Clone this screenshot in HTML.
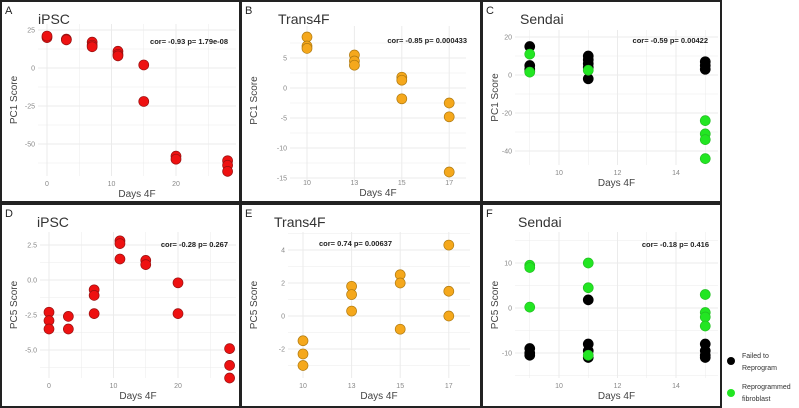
<!DOCTYPE html>
<html><head><meta charset="utf-8"><style>
body{margin:0;background:#fff;}
svg{display:block;font-family:"Liberation Sans",sans-serif;}
</style></head><body>
<svg id="fig" width="799" height="408" viewBox="0 0 799 408" xmlns="http://www.w3.org/2000/svg"></svg>
<script>
// Panel A: iPSC PC1
const aDays=[0,0,3,3,7,7,7,11,11,11,15,15,20,20,28,28,28];
const aPC1=[20,21,19,18.5,17,15,14,11,9,8,2,-22,-58,-60,-61,-64,-68];
// Panel B: Trans4F PC1
const bCats=["10","13","15","17"];
const bDays=["10","10","10","13","13","13","15","15","15","17","17","17"];
const bPC1=[8.5,7,6.6,5.5,4.5,3.8,1.8,1.3,-1.8,-2.5,-4.8,-14];
// Panel C: Sendai PC1
const cDays=[9,9,9,9,9,9,11,11,11,11,11,11,15,15,15,15,15,15,15];
const cPC1=[15,5,3,2,11,1.5,10,8,6,4,-2,2.5,7,5,3,-24,-31,-34,-44];
const cGroup=["f","f","f","f","r","r","f","f","f","f","f","r","f","f","f","r","r","r","r"];
// Panel D: iPSC PC5
const dDays=[0,0,0,3,3,7,7,7,11,11,11,15,15,20,20,28,28,28];
const dPC5=[-2.3,-2.9,-3.5,-2.6,-3.5,-0.7,-1.1,-2.4,2.8,2.6,1.5,1.4,1.1,-0.2,-2.4,-4.9,-6.1,-7.0];
// Panel E: Trans4F PC5
const eCats=["10","13","15","17"];
const eDays=["10","10","10","13","13","13","15","15","15","17","17","17"];
const ePC5=[-1.5,-2.3,-3.0,1.8,1.3,0.3,2.5,2.0,-0.8,4.3,1.5,0.0];
// Panel F: Sendai PC5
const fDays=[9,9,9,9,9,9,11,11,11,11,11,11,11,15,15,15,15,15,15,15,15];
const fPC5=[-9,-10,-10.5,9.5,9,0.2,1.8,-8,-9.5,-11,10,4.5,-10.5,-8,-9.5,-10.5,-11,3,-1,-2,-4];
const fGroup=["f","f","f","r","r","r","f","f","f","f","r","r","r","f","f","f","f","r","r","r","r"];
// tick labels
const aXTicks=[0,10,20], aYTicks=[25,0,-25,-50];
const bYTicks=[5,0,-5,-10,-15];
const cXTicks=[10,12,14], cYTicks=[20,0,-20,-40];
const dXTicks=[0,10,20], dYTicks=[2.5,0,-2.5,-5];
const dYLabels=["2.5","0.0","-2.5","-5.0"];
const eYTicks=[4,2,0,-2];
const fXTicks=[10,12,14], fYTicks=[10,0,-10];

const NS="http://www.w3.org/2000/svg";
const svg=document.getElementById('fig');
function mk(tag,attrs,parent){const e=document.createElementNS(NS,tag);for(const k in attrs)e.setAttribute(k,attrs[k]);(parent||svg).appendChild(e);return e;}
function lin(d0,d1,r0,r1){return v=>r0+(v-d0)*(r1-r0)/(d1-d0);}
function txt(s,attrs,parent){const t=mk('text',attrs,parent);t.textContent=s;return t;}

function panel(cfg){
  const g=mk('g',{});
  
  
  const fr=mk('rect',{x:cfg.box[0],y:cfg.box[1],width:cfg.box[2],height:cfg.box[3],fill:'#fff',stroke:'#222','stroke-width':2},g);
  
  
  const [L,T,R,B]=cfg.rect;
  const gb=cfg.gridB||B;
  const grid=mk('g',{stroke:'#ebebeb'},g);
  
  
  const ys=cfg.yTicks.map(cfg.y);
  for(let i=0;i<ys.length;i++){
    mk('line',{x1:L,x2:R,y1:ys[i],y2:ys[i],'stroke-width':1},grid);
    if(i<ys.length-1){const m=(ys[i]+ys[i+1])/2;mk('line',{x1:L,x2:R,y1:m,y2:m,'stroke-width':0.5},grid);}
  }
  const step=ys.length>1?ys[1]-ys[0]:30;
  let m0=ys[0]-step/2; if(m0>T) mk('line',{x1:L,x2:R,y1:m0,y2:m0,'stroke-width':0.5},grid);
  let m1=ys[ys.length-1]+step/2; if(m1<gb) mk('line',{x1:L,x2:R,y1:m1,y2:m1,'stroke-width':0.5},grid);
  const xs=cfg.xTicks.map(cfg.xt);
  for(let i=0;i<xs.length;i++){
    mk('line',{x1:xs[i],x2:xs[i],y1:T,y2:gb,'stroke-width':1},grid);
    if(cfg.minorX && i<xs.length-1){const m=(xs[i]+xs[i+1])/2;mk('line',{x1:m,x2:m,y1:T,y2:gb,'stroke-width':0.5},grid);}
  }
  if(cfg.minorX){const s=xs[1]-xs[0];[xs[0]-s/2,xs[xs.length-1]+s/2].forEach(m=>{if(m>L&&m<R)mk('line',{x1:m,x2:m,y1:T,y2:gb,'stroke-width':0.5},grid);});}
  cfg.yTicks.forEach((t,i)=>{const e=txt(cfg.yLabels?cfg.yLabels[i]:String(t),{x:L-3,y:cfg.y(t)+2.5,'font-size':7,fill:'#888','text-anchor':'end'},g);
    });
  cfg.xTicks.forEach((t,i)=>{const e=txt(String(t),{x:cfg.xt(t),y:B+10,'font-size':7,fill:'#888','text-anchor':'middle'},g);
    });
  let e=txt('Days 4F',{x:(L+R)/2,y:B+21,'font-size':10,fill:'#444','text-anchor':'middle'},g);
  
  const yc=(T+B)/2;
  e=txt(cfg.yTitle,{x:cfg.box[0]+16,y:yc,'font-size':10,fill:'#444','text-anchor':'middle',transform:`rotate(-90 ${cfg.box[0]+16} ${yc})`},g);
  
  e=txt(cfg.letter,{x:cfg.box[0]+4,y:cfg.box[1]+13,'font-size':11,fill:'#222'},g);
  
  e=txt(cfg.title,{x:cfg.titleX,y:cfg.box[1]+23,'font-size':14,fill:'#333'},g);
  
  e=txt(cfg.cor,{x:cfg.corX,y:cfg.corY,'font-size':7.5,'font-weight':'bold',fill:'#222','text-anchor':'end'},g);
  
  cfg.xs.forEach((xv,i)=>{
    const col=cfg.color(i);
    const c=mk('circle',{cx:cfg.x(xv),cy:cfg.y(cfg.ys[i]),r:5,fill:col.f,stroke:col.s,'stroke-width':0.7},g);
    
    
  });
}
const red={f:'#ee1111',s:'#991111'}, orange={f:'#f5a81c',s:'#b07a10'};
const blk={f:'#000',s:'#000'}, grn={f:'#22e622',s:'#22c022'};

let sx=lin(0,20,47,176);
panel({name:'panel-a',box:[1,1,239,201],rect:[38,24,236,176],x:sx,xt:sx,xTicks:aXTicks,minorX:true,y:lin(0,25,68,30),yTicks:aYTicks,
  xs:aDays,ys:aPC1,color:()=>red,yTitle:'PC1 Score',letter:'A',title:'iPSC',titleX:38,cor:'cor= -0.93 p= 1.79e-08',corX:228,corY:44});
let bx=c=>307+bCats.indexOf(c)*47.4;
panel({name:'panel-b',box:[241,1,240,201],rect:[290,26,466,175],gridB:182,x:bx,xt:bx,xTicks:bCats,minorX:false,y:lin(0,5,88,58),yTicks:bYTicks,
  xs:bDays,ys:bPC1,color:()=>orange,yTitle:'PC1 Score',letter:'B',title:'Trans4F',titleX:278,cor:'cor= -0.85 p= 0.000433',corX:467,corY:43});
let cx=lin(10,14,559,676);
panel({name:'panel-c',box:[482,1,239,201],rect:[515,30,718,165],x:cx,xt:cx,xTicks:cXTicks,minorX:true,y:lin(0,20,75,37),yTicks:cYTicks,
  xs:cDays,ys:cPC1,color:i=>cGroup[i]==='f'?blk:grn,yTitle:'PC1 Score',letter:'C',title:'Sendai',titleX:520,cor:'cor= -0.59 p= 0.00422',corX:708,corY:43});
let dx=lin(0,20,49,178);
panel({name:'panel-d',box:[1,204,239,203],rect:[40,232,236,378],x:dx,xt:dx,xTicks:dXTicks,minorX:true,y:lin(0,2.5,280,245),yTicks:dYTicks,yLabels:dYLabels,
  xs:dDays,ys:dPC5,color:()=>red,yTitle:'PC5 Score',letter:'D',title:'iPSC',titleX:37,cor:'cor= -0.28 p= 0.267',corX:228,corY:247});
let ex=c=>303+eCats.indexOf(c)*48.6;
panel({name:'panel-e',box:[241,204,240,203],rect:[288,232,470,378],x:ex,xt:ex,xTicks:eCats,minorX:false,y:lin(0,2,316,283),yTicks:eYTicks,
  xs:eDays,ys:ePC5,color:()=>orange,yTitle:'PC5 Score',letter:'E',title:'Trans4F',titleX:274,cor:'cor= 0.74 p= 0.00637',corX:392,corY:246});
let fx=lin(10,14,559,676);
panel({name:'panel-f',box:[482,204,239,203],rect:[515,232,718,378],x:fx,xt:fx,xTicks:fXTicks,minorX:true,y:lin(0,10,308,263),yTicks:fYTicks,
  xs:fDays,ys:fPC5,color:i=>fGroup[i]==='f'?blk:grn,yTitle:'PC5 Score',letter:'F',title:'Sendai',titleX:518,cor:'cor= -0.18 p= 0.416',corX:709,corY:247});

const lg=mk('g',{});


const l1=mk('circle',{cx:731,cy:361,r:4,fill:'#000'},lg);

let t=txt('Failed to',{x:742,y:358,'font-size':7,fill:'#333'},lg);
t=txt('Reprogram',{x:742,y:370,'font-size':7,fill:'#333'},lg);
const l2=mk('circle',{cx:731,cy:393,r:4,fill:'#22e622'},lg);

t=txt('Reprogrammed',{x:742,y:389,'font-size':7,fill:'#333'},lg);
t=txt('fibroblast',{x:742,y:401,'font-size':7,fill:'#333'},lg);
</script>
</body></html>
